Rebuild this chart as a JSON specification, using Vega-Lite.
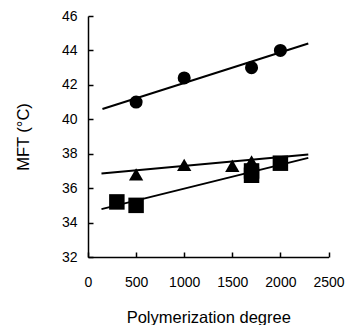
{
  "$schema": "https://vega.github.io/schema/vega-lite/v6.json",
  "width": 240.5,
  "height": 241,
  "autosize": "none",
  "padding": {"left": 88, "top": 16, "right": 18.5, "bottom": 68},
  "background": "white",
  "config": {
    "view": {"stroke": null},
    "font": "Liberation Sans",
    "axis": {
      "domainColor": "black",
      "domainWidth": 1.5,
      "tickColor": "black",
      "tickWidth": 1.5,
      "tickSize": -5,
      "labelColor": "black",
      "labelFont": "Liberation Sans",
      "labelFontSize": 14,
      "labelOverlap": false,
      "labelBound": false,
      "titleColor": "black",
      "titleFont": "Liberation Sans",
      "titleFontSize": 16.5,
      "titleFontWeight": "normal",
      "grid": false
    }
  },
  "datasets": {
    "points": [
      {"series": "circle", "degree": 500, "mft": 41.0},
      {"series": "circle", "degree": 1000, "mft": 42.4},
      {"series": "circle", "degree": 1700, "mft": 43.0},
      {"series": "circle", "degree": 2000, "mft": 44.0},
      {"series": "triangle", "degree": 500, "mft": 36.8},
      {"series": "triangle", "degree": 1000, "mft": 37.35},
      {"series": "triangle", "degree": 1500, "mft": 37.3},
      {"series": "triangle", "degree": 1700, "mft": 37.55},
      {"series": "square", "degree": 300, "mft": 35.2},
      {"series": "square", "degree": 500, "mft": 35.0},
      {"series": "square", "degree": 1700, "mft": 36.75},
      {"series": "square", "degree": 1700, "mft": 37.0},
      {"series": "square", "degree": 2000, "mft": 37.45}
    ],
    "fits": [
      {"series": "circle", "degree": 150, "mft": 40.6},
      {"series": "circle", "degree": 2290, "mft": 44.4},
      {"series": "triangle", "degree": 140, "mft": 36.85},
      {"series": "triangle", "degree": 2290, "mft": 37.95},
      {"series": "square", "degree": 140, "mft": 34.78},
      {"series": "square", "degree": 2290, "mft": 37.76}
    ]
  },
  "encoding": {
    "x": {
      "field": "degree", "type": "quantitative",
      "scale": {"domain": [0, 2500], "nice": false},
      "axis": {"values": [0, 500, 1000, 1500, 2000, 2500], "format": "d", "title": "Polymerization degree", "ticks": true, "tickSize": -5, "labelPadding": 23, "titlePadding": 20, "labelFlush": false}
    },
    "y": {
      "field": "mft", "type": "quantitative",
      "scale": {"domain": [32, 46], "nice": false, "zero": false},
      "axis": {"values": [32, 34, 36, 38, 40, 42, 44, 46], "format": "d", "title": "MFT (°C)", "ticks": true, "tickSize": -5, "labelPadding": 16, "titlePadding": 30, "labelFlush": false}
    }
  },
  "layer": [
    {
      "data": {"name": "fits"},
      "mark": {"type": "line", "color": "black", "strokeWidth": 2},
      "encoding": {
        "detail": {"field": "series"}
      }
    },
    {
      "data": {"name": "points"},
      "mark": {"type": "point", "filled": true, "color": "black", "opacity": 1},
      "encoding": {
        "shape": {
          "field": "series", "type": "nominal",
          "scale": {"domain": ["circle", "triangle", "square"], "range": ["circle", "triangle-up", "square"]},
          "legend": null
        },
        "size": {
          "field": "series", "type": "nominal",
          "scale": {"domain": ["circle", "triangle", "square"], "range": [170, 240, 165]},
          "legend": null
        }
      }
    }
  ]
}
